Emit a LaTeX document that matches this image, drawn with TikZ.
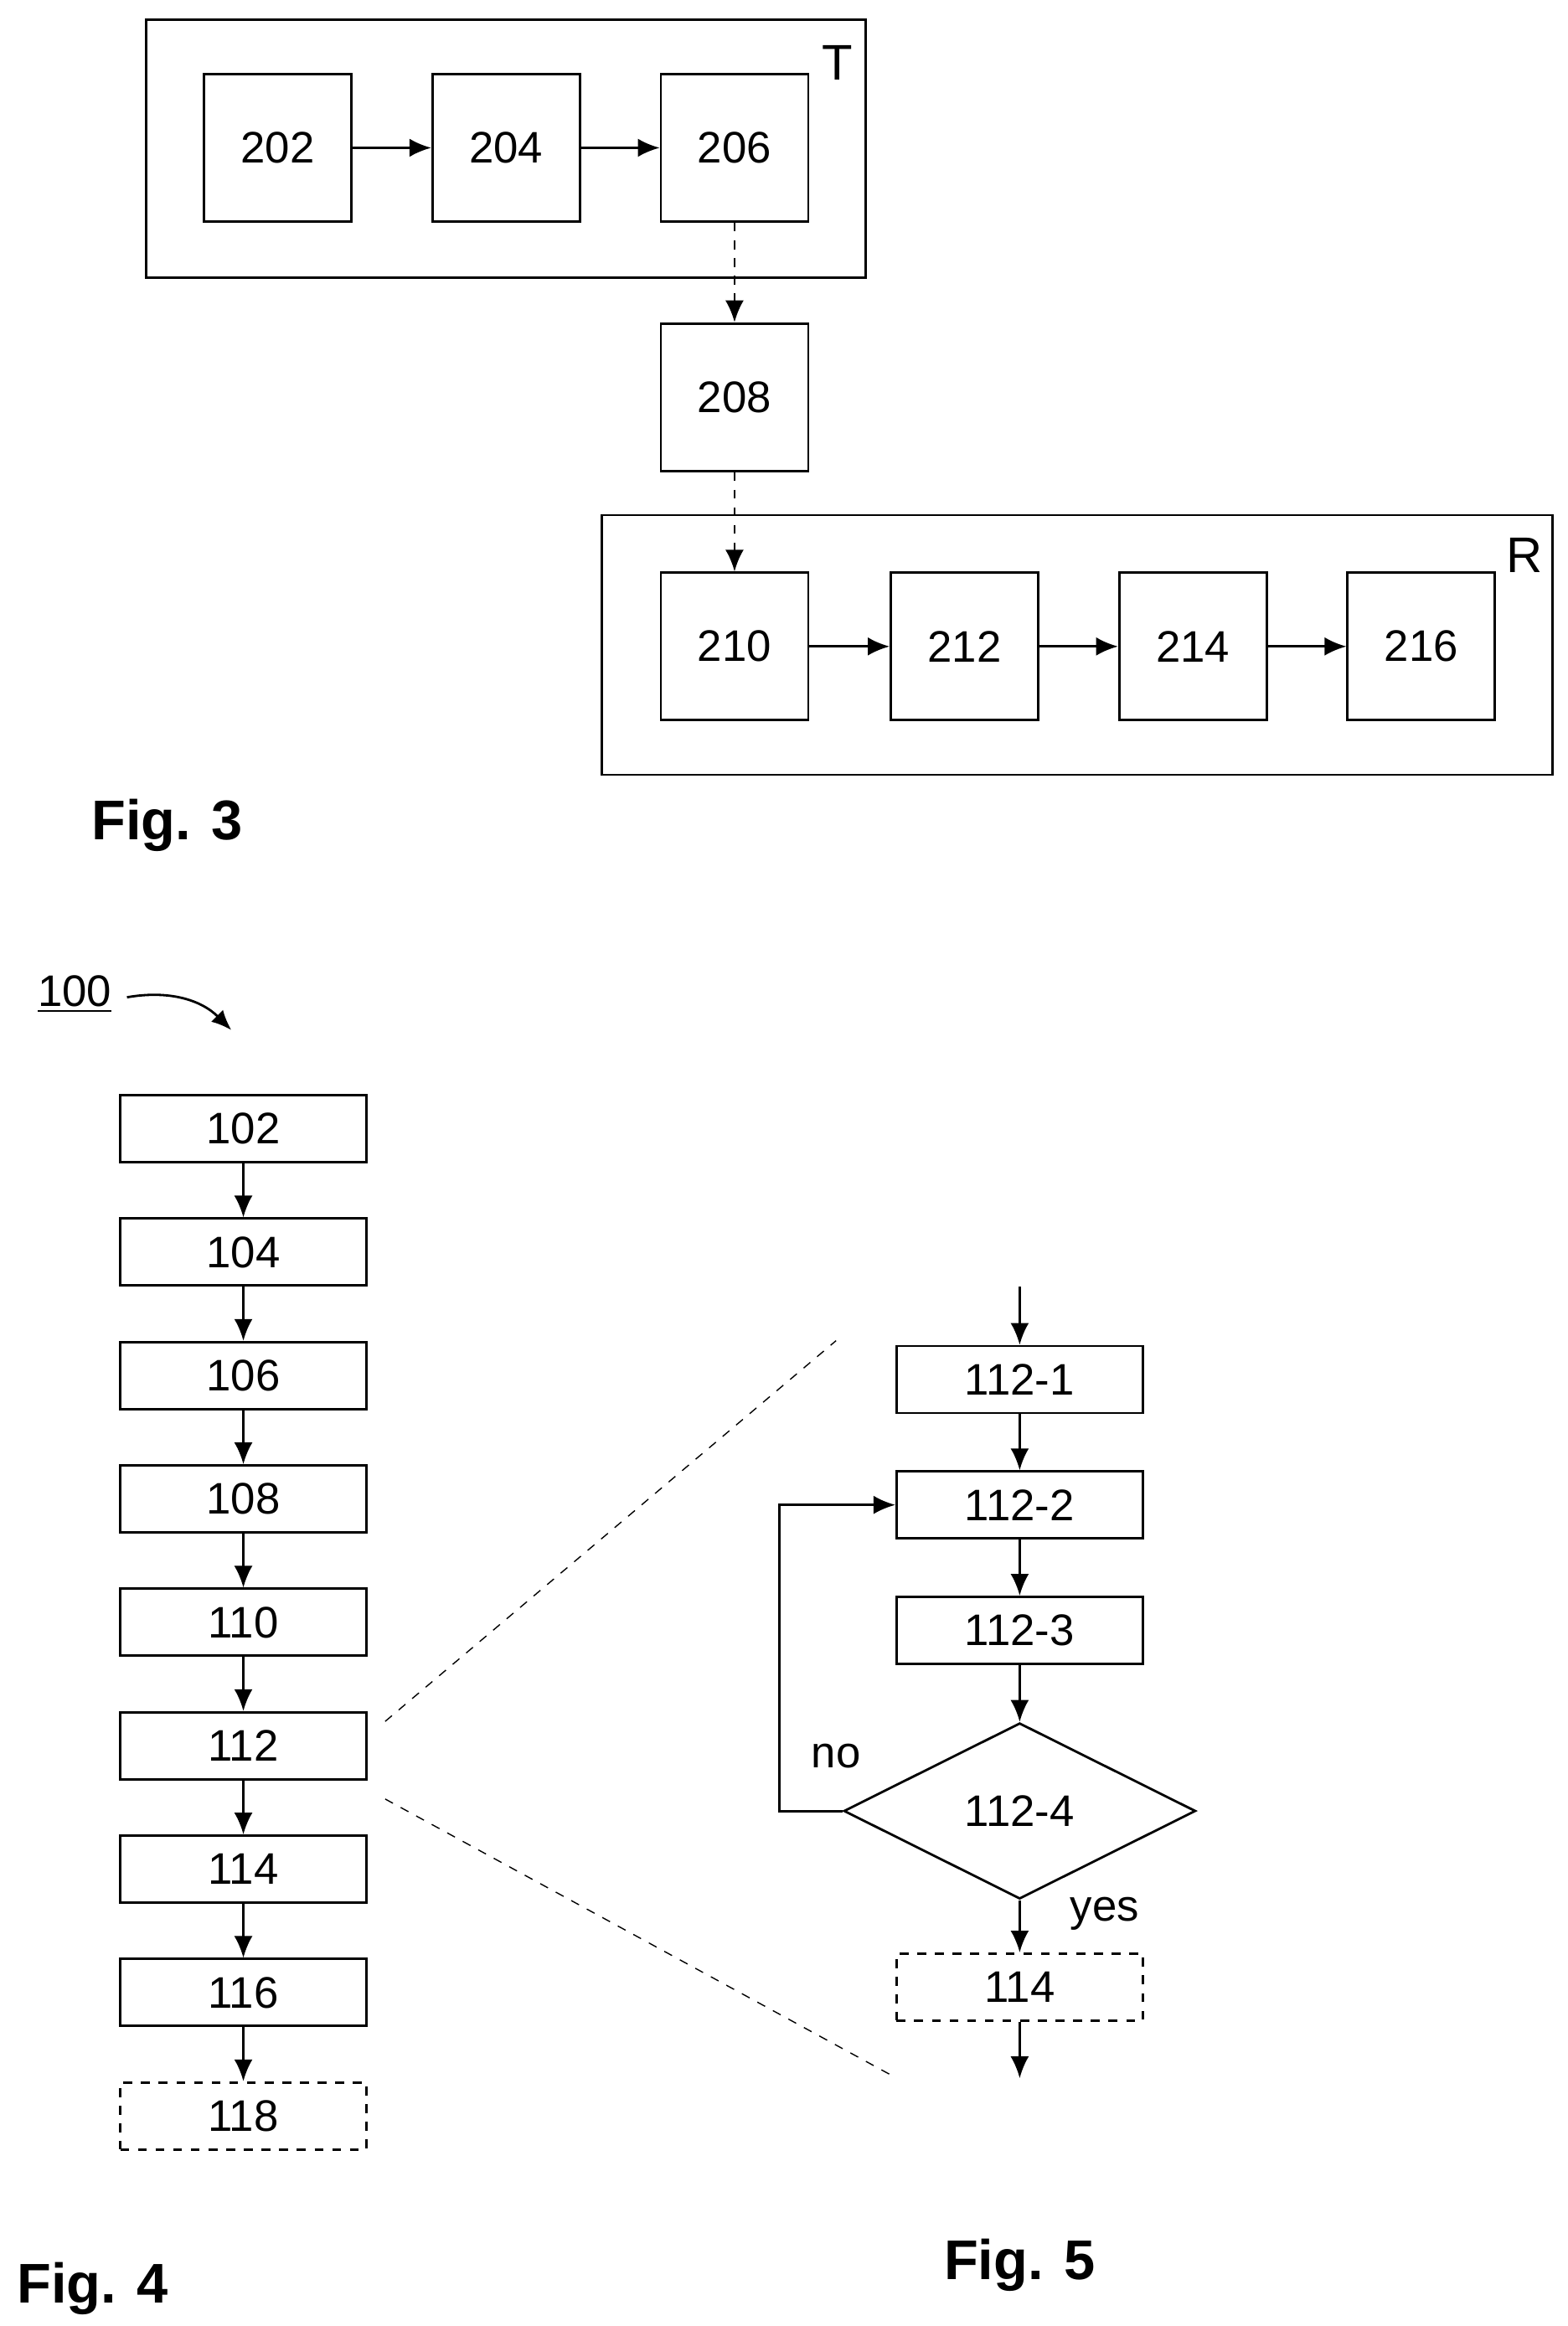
\documentclass[tikz,border=0pt]{standalone}
\usepackage{fontspec}
\setmainfont{Liberation Sans}
\usetikzlibrary{arrows.meta, positioning, shapes.geometric}
\tikzset{
	blk/.style={draw, thick, minimum width=1.76cm, minimum height=1.76cm, font=\fontsize{15}{15}\selectfont},
	stp/.style={draw, thick, minimum width=2.94cm, minimum height=0.8cm, font=\fontsize{15}{15}\selectfont},
	dstp/.style={stp, dashed},
	dec/.style={draw, thick, diamond, aspect=2, minimum width=4.2cm, minimum height=2.1cm, inner sep=0pt, font=\fontsize{15}{15}\selectfont},
	arr/.style={thick, -{Latex[length=2.6mm, width=2.2mm]}},
	figlab/.style={font=\bfseries\fontsize{19}{19}\selectfont}
}
\begin{document}
\begin{tikzpicture}[x=0.01782cm, y=-0.01782cm]
			\useasboundingbox (0,0) rectangle (1050,1558);
			% Fig. 3
			\draw[thick] (98,13) rectangle (580,186);
			\node[font=\fontsize{17}{17}\selectfont] (t) at (561,42) {T};
			\node[blk] (b202) at (186,99) {202};
			\node[blk] (b204) at (339,99) {204};
			\node[blk] (b206) at (492,99) {206};
			\node[blk] (b208) at (492,266) {208};
			\draw[thick] (403,345) rectangle (1040,519);
			\node[font=\fontsize{17}{17}\selectfont] (r) at (1021,372) {R};
			\node[blk] (b210) at (492,433) {210};
			\node[blk] (b212) at (646,433) {212};
			\node[blk] (b214) at (799,433) {214};
			\node[blk] (b216) at (952,433) {216};
			\draw[arr] (b202) -- (b204);
			\draw[arr] (b204) -- (b206);
			\draw[arr, dashed] (b206) -- (b208);
			\draw[arr, dashed] (b208) -- (b210);
			\draw[arr] (b210) -- (b212);
			\draw[arr] (b212) -- (b214);
			\draw[arr] (b214) -- (b216);
			\node[figlab] (fig3) at (112,553) {Fig. 3};
			% Fig. 4
			\node[font=\fontsize{15}{15}\selectfont, inner sep=1pt] (m100) at (50,666) {\underline{100}};
			\coordinate (m100end) at (155,690);
			\draw[thick, -{Latex[length=2.4mm, width=2mm]}] (m100.east) ++(8,2) to[out=10, in=135] (m100end);
			\node[stp] (s102) at (163,756) {102};
			\node[stp, below=0.645cm of s102] (s104) {104};
			\node[stp, below=0.645cm of s104] (s106) {106};
			\node[stp, below=0.645cm of s106] (s108) {108};
			\node[stp, below=0.645cm of s108] (s110) {110};
			\node[stp, below=0.645cm of s110] (s112) {112};
			\node[stp, below=0.645cm of s112] (s114) {114};
			\node[stp, below=0.645cm of s114] (s116) {116};
			\node[dstp, below=0.645cm of s116] (s118) {118};
			\foreach \a/\b in {102/104,104/106,106/108,108/110,110/112,112/114,114/116,116/118}
				\draw[arr] (s\a) -- (s\b);
			\node[figlab] (fig4) at (62,1533) {Fig. 4};
			% zoom lines
			\coordinate (z1) at (560,898);
			\coordinate (z2) at (597,1390);
			\draw[dashed] (258,1153) -- (z1);
			\draw[dashed] (258,1205) -- (z2);
			% Fig. 5
			\coordinate (in) at (683,862);
			\node[stp] (f1) at (683,924) {112-1};
			\node[stp] (f2) at (683,1008) {112-2};
			\node[stp] (f3) at (683,1092) {112-3};
			\node[dec] (f4) at (683,1213) {112-4};
			\node[dstp] (f5) at (683,1331) {114};
			\coordinate (out) at (683,1392);
			\coordinate (loop) at (522,1213);
			\draw[arr] (in) -- (f1);
			\draw[arr] (f1) -- (f2);
			\draw[arr] (f2) -- (f3);
			\draw[arr] (f3) -- (f4);
			\draw[arr] (f4) -- (f5);
			\draw[arr] (f5) -- (out);
			\draw[arr] (f4.west) -- (loop) |- (f2.west);
			\node[font=\fontsize{15}{15}\selectfont] (no) at (560,1176) {no};
			\node[font=\fontsize{15}{15}\selectfont] (yes) at (740,1282) {yes};
			\node[figlab] (fig5) at (683,1517) {Fig. 5};
		\end{tikzpicture}
\end{document}
